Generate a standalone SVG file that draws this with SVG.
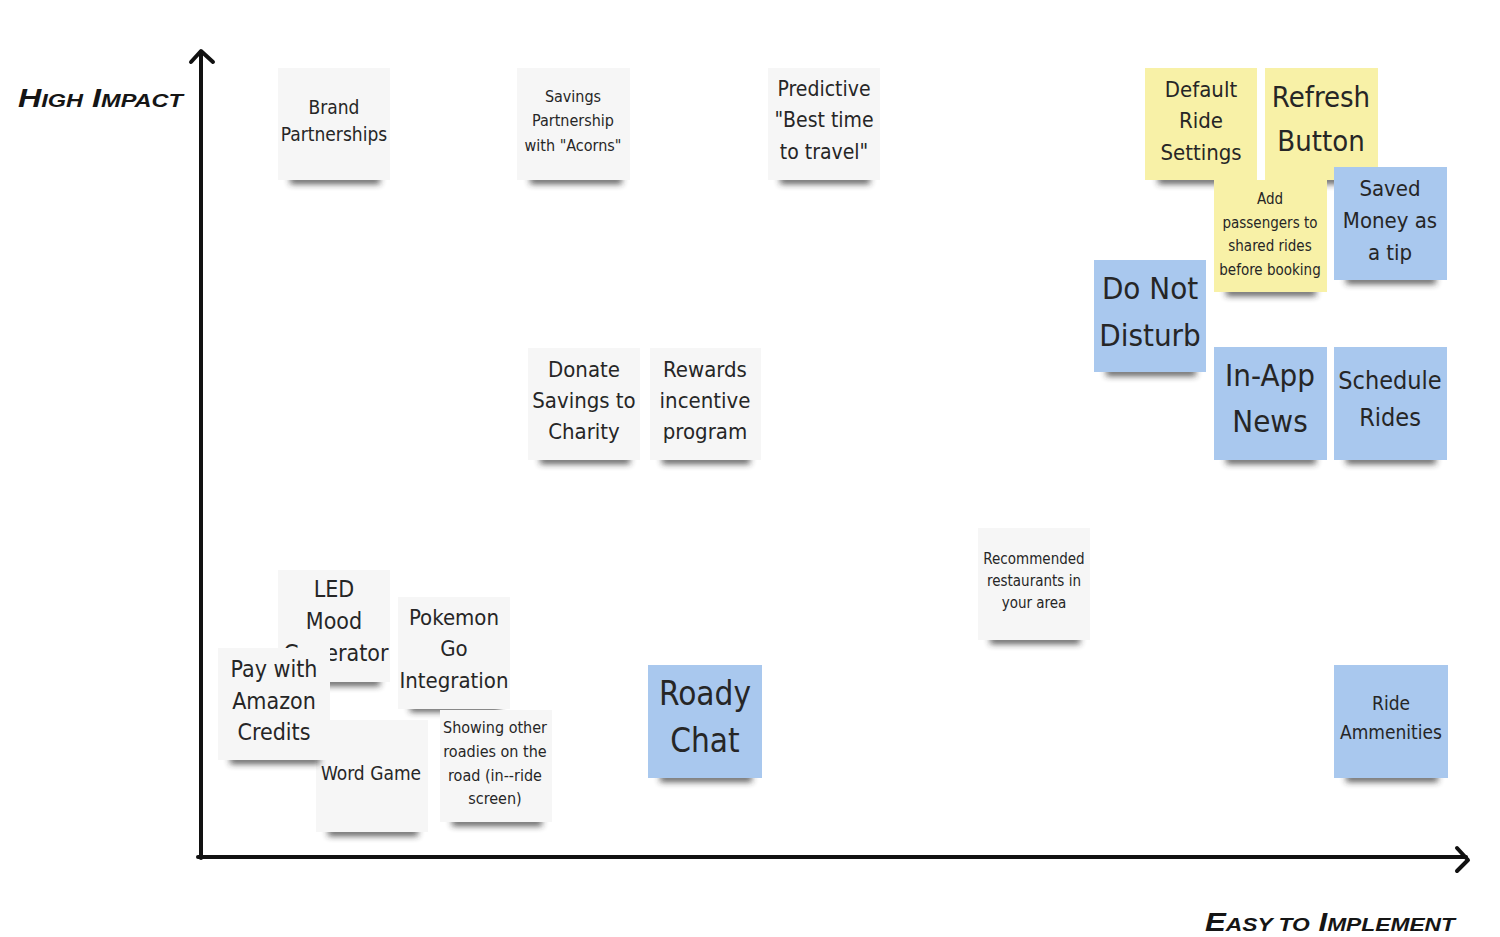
<svg xmlns="http://www.w3.org/2000/svg" width="1500" height="937" viewBox="0 0 1500 937">
<style>
  .w { fill: #f6f6f6; }
  .y { fill: #f8f1a7; }
  .b { fill: #a9c8ee; }
  .sh { fill: #2a2a2a; filter: url(#blur); opacity: 0.75; }
  .t { font-family: "DejaVu Sans Condensed", "DejaVu Sans", sans-serif; font-stretch: condensed; fill: #262626; text-anchor: middle; dominant-baseline: central; }
  .ax { stroke: #111; stroke-width: 4; fill: none; stroke-linecap: round; stroke-linejoin: round; }
  .lbl { font-family: "Liberation Sans", "DejaVu Sans", sans-serif; font-weight: bold; font-style: italic; fill: #151515; }
</style>
<defs>
  <filter id="blur" x="-20%" y="-200%" width="140%" height="500%">
    <feGaussianBlur stdDeviation="3"/>
  </filter>
</defs>
<rect width="1500" height="937" fill="#ffffff"/>

<g id="axes">
  <path class="ax" d="M201 858 V52"/>
  <path class="ax" d="M191 62 L201 51 L213 62"/>
  <path class="ax" d="M198 857 H1466"/>
  <path class="ax" d="M1457 848 L1468 860 L1457 871"/>
</g>

<g id="label-high-impact">
  <text class="lbl" x="18" y="107" font-size="26" textLength="165" lengthAdjust="spacingAndGlyphs">H<tspan font-size="19">IGH</tspan> I<tspan font-size="19">MPACT</tspan></text>
</g>
<g id="label-easy">
  <text class="lbl" x="1205" y="931" font-size="26" textLength="250" lengthAdjust="spacingAndGlyphs">E<tspan font-size="19">ASY TO</tspan> I<tspan font-size="19">MPLEMENT</tspan></text>
</g>

<g id="brand">
  <rect class="sh" x="290" y="176" width="90" height="8"/>
  <rect class="w" x="278" y="68" width="112" height="112"/>
  <text class="t" font-size="19"><tspan x="334" y="107">Brand</tspan><tspan x="334" y="134">Partnerships</tspan></text>
</g>

<g id="savings">
  <rect class="sh" x="530" y="176" width="92" height="8"/>
  <rect class="w" x="517" y="68" width="113" height="112"/>
  <text class="t" font-size="16"><tspan x="573" y="96">Savings</tspan><tspan x="573" y="120">Partnership</tspan><tspan x="573" y="145">with "Acorns"</tspan></text>
</g>

<g id="predictive">
  <rect class="sh" x="780" y="176" width="90" height="8"/>
  <rect class="w" x="768" y="68" width="112" height="112"/>
  <text class="t" font-size="21"><tspan x="824" y="89">Predictive</tspan><tspan x="824" y="120">"Best time</tspan><tspan x="824" y="152">to travel"</tspan></text>
</g>

<g id="default-ride">
  <rect class="sh" x="1158" y="176" width="90" height="8"/>
  <rect class="y" x="1145" y="68" width="112" height="112"/>
  <text class="t" font-size="22"><tspan x="1201" y="89">Default</tspan><tspan x="1201" y="120">Ride</tspan><tspan x="1201" y="152">Settings</tspan></text>
</g>

<g id="refresh">
  <rect class="sh" x="1278" y="176" width="90" height="8"/>
  <rect class="y" x="1265" y="68" width="113" height="112"/>
  <text class="t" font-size="29"><tspan x="1321" y="97">Refresh</tspan><tspan x="1321" y="141">Button</tspan></text>
</g>

<g id="add-passengers">
  <rect class="sh" x="1226" y="288" width="90" height="8"/>
  <rect class="y" x="1214" y="180" width="113" height="112"/>
  <text class="t" font-size="15"><tspan x="1270" y="199">Add</tspan><tspan x="1270" y="223">passengers to</tspan><tspan x="1270" y="246">shared rides</tspan><tspan x="1270" y="270">before booking</tspan></text>
</g>

<g id="saved-money">
  <rect class="sh" x="1346" y="276" width="90" height="8"/>
  <rect class="b" x="1334" y="167" width="113" height="113"/>
  <text class="t" font-size="22"><tspan x="1390" y="188">Saved</tspan><tspan x="1390" y="220">Money as</tspan><tspan x="1390" y="252">a tip</tspan></text>
</g>

<g id="do-not-disturb">
  <rect class="sh" x="1106" y="368" width="90" height="8"/>
  <rect class="b" x="1094" y="260" width="112" height="112"/>
  <text class="t" font-size="31"><tspan x="1150" y="288">Do Not</tspan><tspan x="1150" y="335">Disturb</tspan></text>
</g>

<g id="in-app-news">
  <rect class="sh" x="1226" y="456" width="90" height="8"/>
  <rect class="b" x="1214" y="347" width="113" height="113"/>
  <text class="t" font-size="31"><tspan x="1270" y="375">In-App</tspan><tspan x="1270" y="421">News</tspan></text>
</g>

<g id="schedule-rides">
  <rect class="sh" x="1346" y="456" width="90" height="8"/>
  <rect class="b" x="1334" y="347" width="113" height="113"/>
  <text class="t" font-size="25"><tspan x="1390" y="380">Schedule</tspan><tspan x="1390" y="417">Rides</tspan></text>
</g>

<g id="donate">
  <rect class="sh" x="540" y="456" width="90" height="8"/>
  <rect class="w" x="528" y="348" width="112" height="112"/>
  <text class="t" font-size="22"><tspan x="584" y="369">Donate</tspan><tspan x="584" y="400">Savings to</tspan><tspan x="584" y="431">Charity</tspan></text>
</g>

<g id="rewards">
  <rect class="sh" x="662" y="456" width="88" height="8"/>
  <rect class="w" x="650" y="348" width="111" height="112"/>
  <text class="t" font-size="22"><tspan x="705" y="369">Rewards</tspan><tspan x="705" y="400">incentive</tspan><tspan x="705" y="431">program</tspan></text>
</g>

<g id="recommended">
  <rect class="sh" x="990" y="636" width="90" height="8"/>
  <rect class="w" x="978" y="528" width="112" height="112"/>
  <text class="t" font-size="15"><tspan x="1034" y="559">Recommended</tspan><tspan x="1034" y="581">restaurants in</tspan><tspan x="1034" y="603">your area</tspan></text>
</g>

<g id="led-mood">
  <rect class="sh" x="290" y="678" width="90" height="8"/>
  <rect class="w" x="278" y="570" width="112" height="112"/>
  <text class="t" font-size="23"><tspan x="334" y="589">LED</tspan><tspan x="334" y="621">Mood</tspan><tspan x="336" y="653">Generator</tspan></text>
</g>

<g id="word-game">
  <rect class="sh" x="328" y="828" width="90" height="8"/>
  <rect class="w" x="316" y="720" width="112" height="112"/>
  <text class="t" font-size="19" x="371" y="773">Word Game</text>
</g>

<g id="pay-amazon">
  <rect class="sh" x="230" y="756" width="90" height="8"/>
  <rect class="w" x="218" y="648" width="112" height="112"/>
  <text class="t" font-size="23"><tspan x="274" y="669">Pay with</tspan><tspan x="274" y="701">Amazon</tspan><tspan x="274" y="732">Credits</tspan></text>
</g>

<g id="pokemon">
  <rect class="sh" x="410" y="704" width="90" height="8"/>
  <rect class="w" x="398" y="597" width="112" height="112"/>
  <text class="t" font-size="22"><tspan x="454" y="617">Pokemon</tspan><tspan x="454" y="648">Go</tspan><tspan x="454" y="680">Integration</tspan></text>
</g>

<g id="showing-roadies">
  <rect class="sh" x="452" y="818" width="90" height="8"/>
  <rect class="w" x="440" y="710" width="112" height="112"/>
  <text class="t" font-size="16"><tspan x="495" y="727">Showing other</tspan><tspan x="495" y="751">roadies on the</tspan><tspan x="495" y="775">road (in--ride</tspan><tspan x="495" y="798">screen)</tspan></text>
</g>

<g id="roady-chat">
  <rect class="sh" x="660" y="774" width="92" height="8"/>
  <rect class="b" x="648" y="665" width="114" height="113"/>
  <text class="t" font-size="33"><tspan x="705" y="693">Roady</tspan><tspan x="705" y="740">Chat</tspan></text>
</g>

<g id="ride-ammenities">
  <rect class="sh" x="1346" y="774" width="92" height="8"/>
  <rect class="b" x="1334" y="665" width="114" height="113"/>
  <text class="t" font-size="19"><tspan x="1391" y="703">Ride</tspan><tspan x="1391" y="732">Ammenities</tspan></text>
</g>
</svg>
